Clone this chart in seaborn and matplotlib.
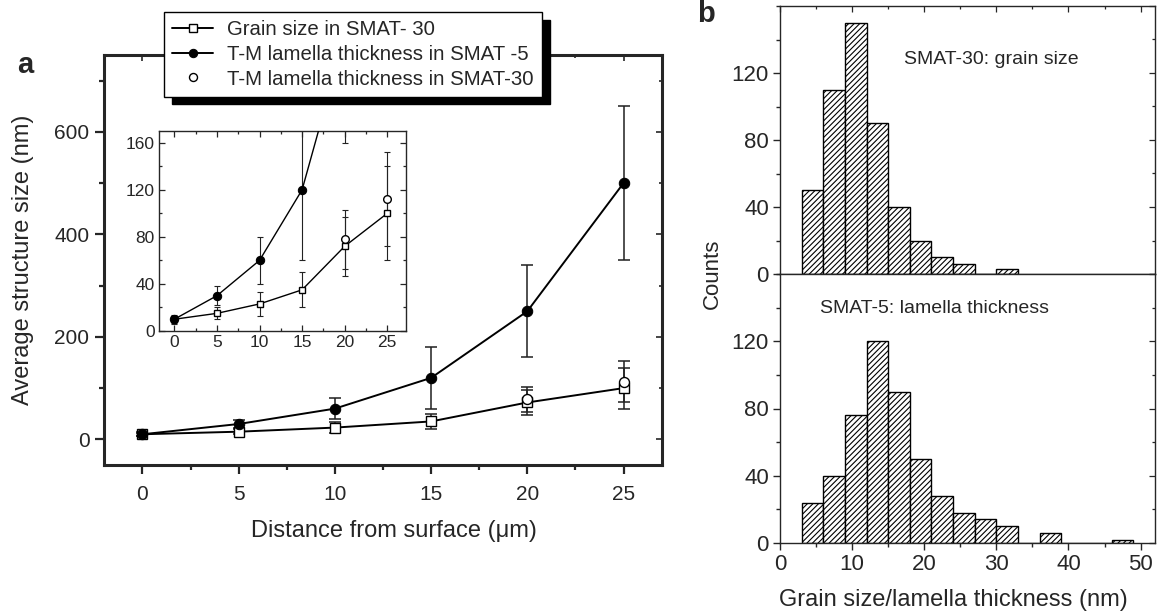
import matplotlib
matplotlib.use("Agg")
import matplotlib.pyplot as plt
import seaborn as sns
from matplotlib.ticker import MultipleLocator

# panel a: structure size vs depth
dist = [0, 5, 10, 15, 20, 25]
grain30 = [10, 15, 23, 35, 72, 100]
grain30_err = [3, 5, 10, 15, 25, 40]
lam5 = [10, 30, 60, 120, 250, 500]
lam5_err = [4, 8, 20, 60, 90, 150]
lam30_x = [20, 25]
lam30 = [78, 112]
lam30_err = [25, 40]

labels = ["Grain size in SMAT- 30",
          "T-M lamella thickness in SMAT -5",
          "T-M lamella thickness in SMAT-30"]

# panel b: histograms (3 nm bins)
top_edges = [3, 6, 9, 12, 15, 18, 21, 24, 27, 30, 33]
top_counts = [50, 110, 150, 90, 40, 20, 10, 6, 0, 3]
bot_edges = [3, 6, 9, 12, 15, 18, 21, 24, 27, 30, 33, 36, 39, 46, 49]
bot_counts = [24, 40, 76, 120, 90, 50, 28, 18, 14, 10, 0, 6, 0, 2]

sns.set_style("ticks")
plt.rcParams["font.family"] = ["Liberation Sans", "DejaVu Sans"]
plt.rcParams["hatch.linewidth"] = 0.8

W, H = 1157, 616
fig = plt.figure(figsize=(W / 100, H / 100), dpi=100)


def px_axes(l, t, r, b):
    return fig.add_axes([l / W, 1 - b / H, (r - l) / W, (b - t) / H])


def mirror_ticks(ax, xmaj, xmin, ymaj, ymin, top=True, right=True, length=4, width=1):
    if top:
        sx = ax.secondary_xaxis("top")
        sx.xaxis.set_major_locator(MultipleLocator(xmaj))
        sx.xaxis.set_minor_locator(MultipleLocator(xmin))
        sx.tick_params(which="both", direction="in", labeltop=False, length=length, width=width)
        sx.tick_params(which="minor", length=length * 0.6)
        sx.spines["top"].set_visible(False)
    if right:
        sy = ax.secondary_yaxis("right")
        sy.yaxis.set_major_locator(MultipleLocator(ymaj))
        sy.yaxis.set_minor_locator(MultipleLocator(ymin))
        sy.tick_params(which="both", direction="in", labelright=False, length=length, width=width)
        sy.tick_params(which="minor", length=length * 0.6)
        sy.spines["right"].set_visible(False)


def draw_series(ax, ms_fill, ms_sq, ms_open, lw, cap):
    ekw = dict(fmt="none", ecolor="#222", elinewidth=lw * 0.8, capsize=cap,
               capthick=lw * 0.8, zorder=2)
    ax.errorbar(dist, grain30, yerr=grain30_err, **ekw)
    ax.errorbar(dist, lam5, yerr=lam5_err, **ekw)
    ax.errorbar(lam30_x, lam30, yerr=lam30_err, **ekw)
    sns.lineplot(x=dist, y=grain30, ax=ax, color="black", lw=lw, marker="s",
                 markersize=ms_sq, markerfacecolor="white", markeredgecolor="black",
                 markeredgewidth=1, label=labels[0], zorder=3)
    sns.lineplot(x=dist, y=lam5, ax=ax, color="black", lw=lw, marker="o",
                 markersize=ms_fill, markerfacecolor="black", markeredgecolor="black",
                 label=labels[1], zorder=4)
    sns.lineplot(x=lam30_x, y=lam30, ax=ax, color="black", linestyle="", marker="o",
                 markersize=ms_open, markerfacecolor="white", markeredgecolor="black",
                 markeredgewidth=1, label=labels[2], zorder=5)


# ---- panel a main
ax = px_axes(104, 55, 662, 465)
draw_series(ax, ms_fill=7.5, ms_sq=6.5, ms_open=7.2, lw=1.4, cap=4)
ax.set_xlim(-2, 27)
ax.set_ylim(-50, 750)
ax.xaxis.set_major_locator(MultipleLocator(5))
ax.xaxis.set_minor_locator(MultipleLocator(2.5))
ax.yaxis.set_major_locator(MultipleLocator(200))
ax.yaxis.set_minor_locator(MultipleLocator(100))
ax.tick_params(which="major", direction="out", length=6.5, width=1.6, labelsize=15, pad=4)
ax.tick_params(axis="x", which="major", pad=8)
ax.tick_params(which="minor", direction="out", length=3.5, width=1.6)
for s in ax.spines.values():
    s.set_linewidth(2.2)
mirror_ticks(ax, 5, 2.5, 200, 100, length=4, width=1.2)
ax.set_xlabel("Distance from surface (\u03bcm)", fontsize=17)
ax.set_ylabel("Average structure size (nm)", fontsize=17)
ax.xaxis.set_label_coords(0.52, -0.135)
ax.yaxis.set_label_coords(-0.125, 0.5)

handles, _ = ax.get_legend_handles_labels()
leg = ax.legend(handles, labels, loc="upper left",
                bbox_to_anchor=(164 / W, 1 - 12 / H), bbox_transform=fig.transFigure,
                borderaxespad=0, fontsize=14.7, frameon=True, fancybox=False,
                framealpha=1, edgecolor="black", handlelength=2.0,
                handletextpad=0.7, labelspacing=0.28, borderpad=0.4,
                markerscale=0.8,
                shadow={"ox": 5.5, "oy": -5.5, "facecolor": "black",
                        "edgecolor": "black", "alpha": 1})
leg.get_frame().set_linewidth(1.0)

# ---- inset
ins = px_axes(159, 131, 406, 331)
draw_series(ins, ms_fill=6, ms_sq=5, ms_open=5.5, lw=1.0, cap=2.5)
ins.get_legend().remove()
ins.set_xlim(-1.8, 27.2)
ins.set_ylim(0, 170)
ins.xaxis.set_major_locator(MultipleLocator(5))
ins.xaxis.set_minor_locator(MultipleLocator(2.5))
ins.yaxis.set_major_locator(MultipleLocator(40))
ins.yaxis.set_minor_locator(MultipleLocator(20))
ins.tick_params(which="both", direction="in", top=True, right=True, labelsize=12.5,
                width=0.9, pad=3)
ins.tick_params(which="major", length=4)
ins.tick_params(which="minor", length=2.5)
for s in ins.spines.values():
    s.set_linewidth(1.0)

# ---- panel b histograms
axt = px_axes(780, 6, 1155, 274)
axb = px_axes(780, 274, 1155, 543)
for a, edges, counts in [(axt, top_edges, top_counts), (axb, bot_edges, bot_counts)]:
    centers = [(edges[i] + edges[i + 1]) / 2 for i in range(len(counts))]
    sns.histplot(x=centers, weights=counts, bins=edges, ax=a, stat="count",
                 facecolor="white", edgecolor="black", linewidth=1.0,
                 hatch="//////", alpha=1)
    a.set_xlim(0, 52)
    a.set_ylim(0, 160)
    a.set_ylabel("")
    a.set_xlabel("")
    a.xaxis.set_major_locator(MultipleLocator(10))
    a.xaxis.set_minor_locator(MultipleLocator(5))
    a.yaxis.set_major_locator(MultipleLocator(40))
    a.yaxis.set_minor_locator(MultipleLocator(20))
    a.set_yticks([0, 40, 80, 120])
    a.tick_params(which="major", direction="out", length=5, width=1, labelsize=16, pad=3)
    a.tick_params(which="minor", direction="out", length=3, width=1)
    for s in a.spines.values():
        s.set_linewidth(1.0)
    mirror_ticks(a, 10, 5, 40, 20, top=(a is axt), length=4, width=0.9)

axt.tick_params(axis="x", which="both", bottom=False, labelbottom=False)
axb.set_xlabel("Grain size/lamella thickness (nm)", fontsize=17)
axb.xaxis.set_label_coords((953 - 780) / 375, -0.17)
axt.text(0.33, 0.8, "SMAT-30: grain size", transform=axt.transAxes, fontsize=14,
         va="center", ha="left")
axb.text(0.107, 0.87, "SMAT-5: lamella thickness", transform=axb.transAxes, fontsize=14,
         va="center", ha="left")
fig.text(712 / W, 1 - 274 / H, "Counts", rotation=90, fontsize=16, ha="center", va="center")

# panel letters
fig.text(25 / W, 1 - 65 / H, "a", fontsize=21, fontweight="bold", ha="center", va="center")
fig.text(706 / W, 1 - 14 / H, "b", fontsize=21, fontweight="bold", ha="center", va="center")

fig.savefig("out.png", dpi=100)
